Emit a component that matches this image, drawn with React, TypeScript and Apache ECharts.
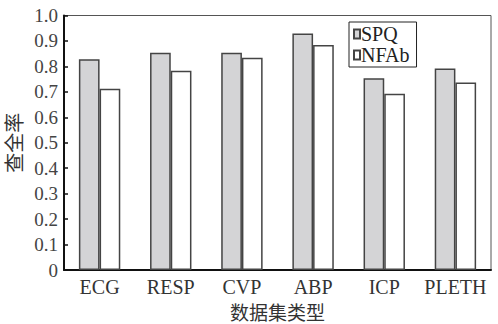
import React, { useEffect, useRef } from "react";
import * as echarts from "echarts";

const categories = ["ECG", "RESP", "CVP", "ABP", "ICP", "PLETH"];
const spq = [0.828, 0.854, 0.854, 0.929, 0.753, 0.792];
const nfab = [0.712, 0.783, 0.834, 0.884, 0.693, 0.737];
const seriesNames = ["SPQ", "NFAb"];
const yTicks = [0, 0.1, 0.2, 0.3, 0.4, 0.5, 0.6, 0.7, 0.8, 0.9, 1.0];

const SERIF = "Liberation Serif";
const CJK = "Noto Sans CJK SC";

export default function App() {
  const ref = useRef<HTMLDivElement>(null);
  useEffect(() => {
    if (!ref.current) return;
    const chart = echarts.init(ref.current, null, { renderer: "svg" });
    chart.setOption({
      animation: false,
      backgroundColor: "#ffffff",
      grid: {
        left: 64,
        top: 15.5,
        right: 7,
        bottom: 54,
        outerBoundsMode: "none",
        containLabel: false,
        show: true,
        borderColor: "#555",
        borderWidth: 1,
        backgroundColor: "transparent",
      },
      legend: {
        data: seriesNames,
        orient: "vertical",
        left: 349,
        top: 22,
        itemWidth: 6,
        itemHeight: 9,
        itemGap: 1,
        padding: [2, 7, 2, 4],
        borderColor: "#222",
        borderWidth: 1,
        backgroundColor: "#fff",
        icon: "rect",
        textStyle: { fontFamily: SERIF, fontSize: 20, color: "#222", padding: [0, 0, 0, -4] },
      },
      xAxis: {
        type: "category",
        data: categories,
        name: "数据集类型",
        nameLocation: "middle",
        nameGap: 30,
        nameTextStyle: { fontFamily: CJK, fontSize: 19, lineHeight: 19, color: "#333" },
        axisLine: { lineStyle: { color: "#111", width: 2 } },
        axisTick: { show: false },
        axisLabel: { fontFamily: SERIF, fontSize: 20, color: "#333", margin: 7, interval: 0 },
      },
      yAxis: {
        type: "value",
        min: 0,
        max: 1,
        interval: 0.1,
        name: "查全率",
        nameLocation: "middle",
        nameRotate: 90,
        nameGap: 40,
        nameTextStyle: { fontFamily: CJK, fontSize: 20, color: "#333" },
        axisLine: { show: true, lineStyle: { color: "#111", width: 2 } },
        axisTick: { show: true, inside: true, length: 4, lineStyle: { color: "#111", width: 1.5 } },
        splitLine: { show: false },
        axisLabel: {
          fontFamily: SERIF,
          fontSize: 19,
          color: "#444",
          margin: 6,
          formatter: (v: number) => {
            const t = yTicks.find((x) => Math.abs(x - v) < 1e-6);
            const val = t === undefined ? v : t;
            return val === 0 ? "0" : val.toFixed(1);
          },
        },
      },
      series: [
        {
          name: seriesNames[0],
          type: "bar",
          data: spq,
          barWidth: 20.7,
          barGap: "0%",
          itemStyle: { color: "#d4d4d6", borderColor: "#444", borderWidth: 1.5 },
        },
        {
          name: seriesNames[1],
          type: "bar",
          data: nfab,
          barWidth: 20.7,
          barGap: "0%",
          itemStyle: { color: "#ffffff", borderColor: "#444", borderWidth: 1.5 },
        },
      ],
    });
    return () => chart.dispose();
  }, []);
  return <div ref={ref} style={{ width: 498, height: 324, position: "fixed", left: 0, top: 0 }} />;
}
